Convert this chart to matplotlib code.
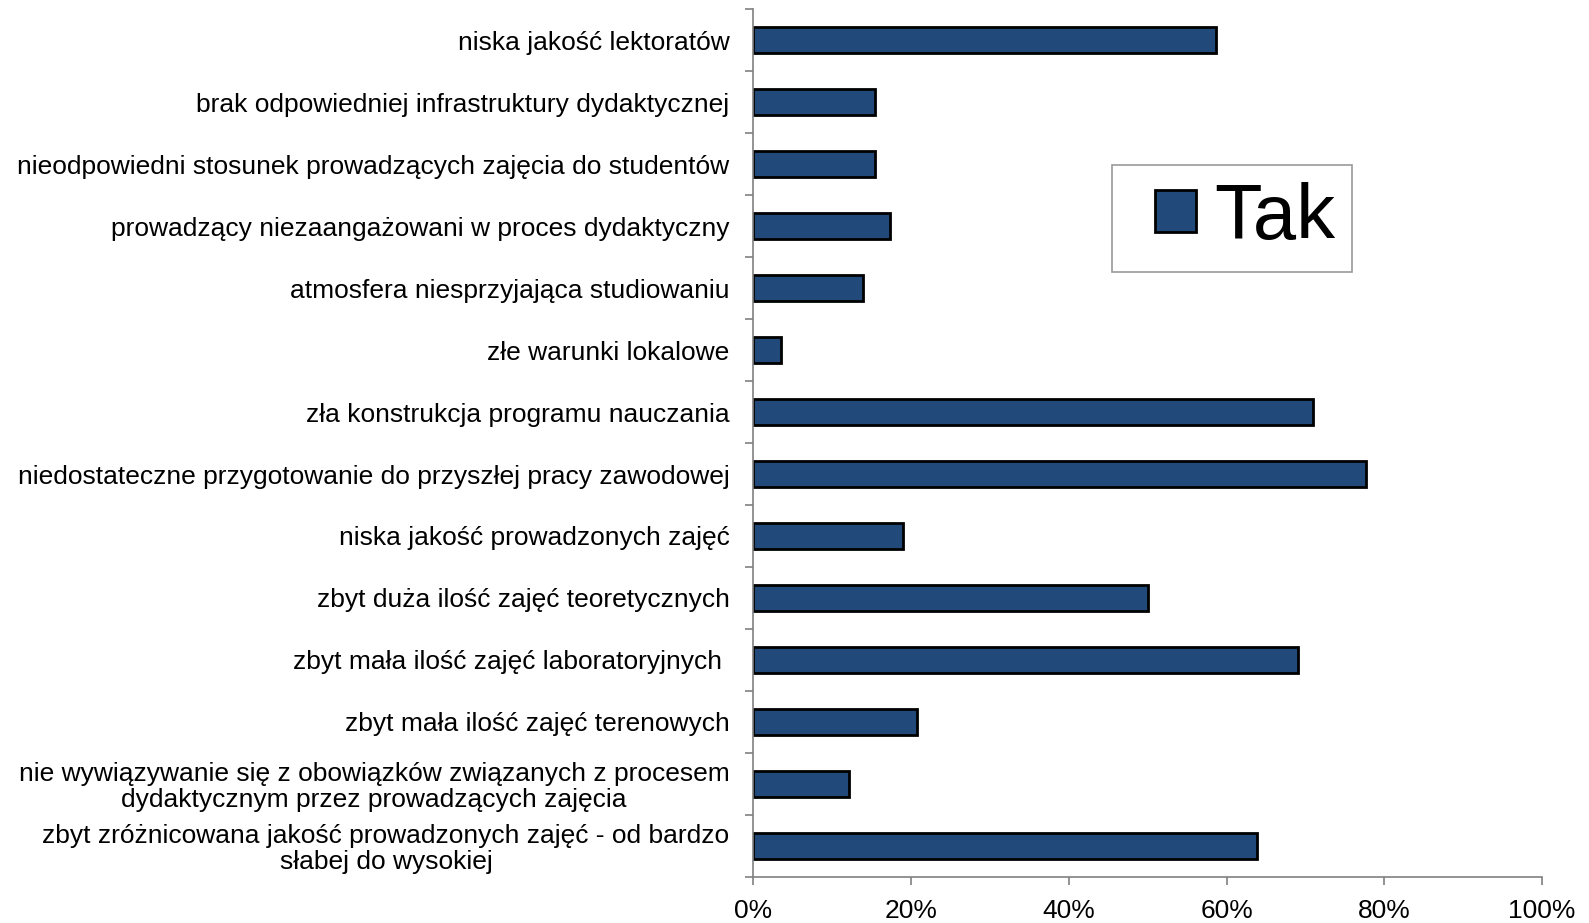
import numpy as np
import matplotlib.pyplot as plt
from matplotlib.patches import Rectangle
from matplotlib.legend_handler import HandlerPatch, update_from_first_child
from matplotlib.ticker import FixedLocator, PercentFormatter

plt.rcParams['font.family'] = ['Liberation Sans', 'DejaVu Sans']

# dane
kategorie = [
    'niska jakość lektoratów',
    'brak odpowiedniej infrastruktury dydaktycznej',
    'nieodpowiedni stosunek prowadzących zajęcia do studentów',
    'prowadzący niezaangażowani w proces dydaktyczny',
    'atmosfera niesprzyjająca studiowaniu',
    'złe warunki lokalowe',
    'zła konstrukcja programu nauczania',
    'niedostateczne przygotowanie do przyszłej pracy zawodowej',
    'niska jakość prowadzonych zajęć',
    'zbyt duża ilość zajęć teoretycznych',
    'zbyt mała ilość zajęć laboratoryjnych ',
    'zbyt mała ilość zajęć terenowych',
    'nie wywiązywanie się z obowiązków związanych z procesem\ndydaktycznym przez prowadzących zajęcia',
    'zbyt zróżnicowana jakość prowadzonych zajęć - od bardzo\nsłabej do wysokiej',
]
tak = [58.7, 15.5, 15.5, 17.3, 13.9, 3.5, 70.9, 77.7, 19.0, 50.1, 69.1, 20.8, 12.2, 63.9]


def kwadrat(legend, orig_handle, xdescent, ydescent, width, height, fontsize):
    # kwadracik przy prawej krawędzi pola uchwytu
    return Rectangle((-xdescent + width - height, -ydescent), height, height)


fig = plt.figure(figsize=(15.89, 9.23), dpi=100)
ax = fig.add_axes([0.474, 0.050, 0.4965, 0.940])

y = np.arange(len(kategorie))
bary = ax.barh(y, tak, height=0.42, color='#214A7B', edgecolor='black', linewidth=2, label='Tak')

ax.set_xlim(0, 100)
ax.set_ylim(len(kategorie) - 0.5, -0.5)

ax.set_yticks(y)
ax.set_yticklabels(kategorie, fontsize=19, multialignment='center', linespacing=1.1)
ax.yaxis.set_minor_locator(FixedLocator(np.arange(-0.5, len(kategorie), 1)))
ax.tick_params(axis='y', which='major', length=0, pad=17)
ax.tick_params(axis='y', which='minor', length=6, color='#808080', width=1.2)

ax.set_xticks(np.arange(0, 101, 20))
ax.xaxis.set_major_formatter(PercentFormatter(decimals=0))
ax.tick_params(axis='x', labelsize=19, length=6, color='#808080', width=1.2, pad=10)

for s in ['top', 'right']:
    ax.spines[s].set_visible(False)
for s in ['left', 'bottom']:
    ax.spines[s].set_color('#808080')
    ax.spines[s].set_linewidth(1.2)

leg = ax.legend(loc='upper left', bbox_to_anchor=(0.455, 0.821), fontsize=56, frameon=True,
                fancybox=False, handlelength=0.86, handleheight=0.44, handletextpad=0.23,
                borderpad=0.22, borderaxespad=0,
                handler_map={type(bary): HandlerPatch(patch_func=kwadrat,
                                                      update_func=update_from_first_child)})
leg.get_frame().set_edgecolor('#808080')
leg.get_frame().set_linewidth(1.2)

fig.savefig('out.png', dpi=100)
